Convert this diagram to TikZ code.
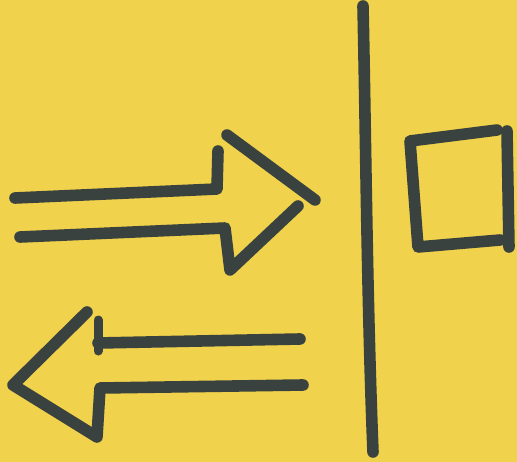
\documentclass[tikz,border=0pt]{standalone}
\usetikzlibrary{positioning}
\definecolor{notepaper}{HTML}{F0D24C}
\definecolor{marker}{HTML}{39423E}

\begin{document}
\begin{tikzpicture}[x=0.05cm,y=-0.05cm,
 pen/.style={draw=marker,line width=0.58cm,line cap=round,line join=round}]
 \fill[notepaper] (0,0) rectangle (517,462);
 \useasboundingbox (0,0) rectangle (517,462);
 % arrow to the right
 \draw[pen] (15,198) -- (217,189) -- (218,151);
 \draw[pen] (227,135) -- (315,200);
 \draw[pen] (298,206) -- (230,270) -- (225,228) -- (20,237);
 % arrow to the left
 \draw[pen] (87,312) -- (13,385) -- (97,437) -- (100,388) -- (303,385);
 \draw[pen,line width=0.45cm] (98,320) -- (98,351);
 \draw[pen] (98,343) -- (300,339);
 % wall
 \draw[pen] (363,6) .. controls (366,150) and (367,300) .. (373,452);
 % box behind the wall
 \draw[pen] (497,130) -- (410,141) -- (418,247) -- (500,240);
 \draw[pen] (507,131) -- (509,247);
\end{tikzpicture}
\end{document}
